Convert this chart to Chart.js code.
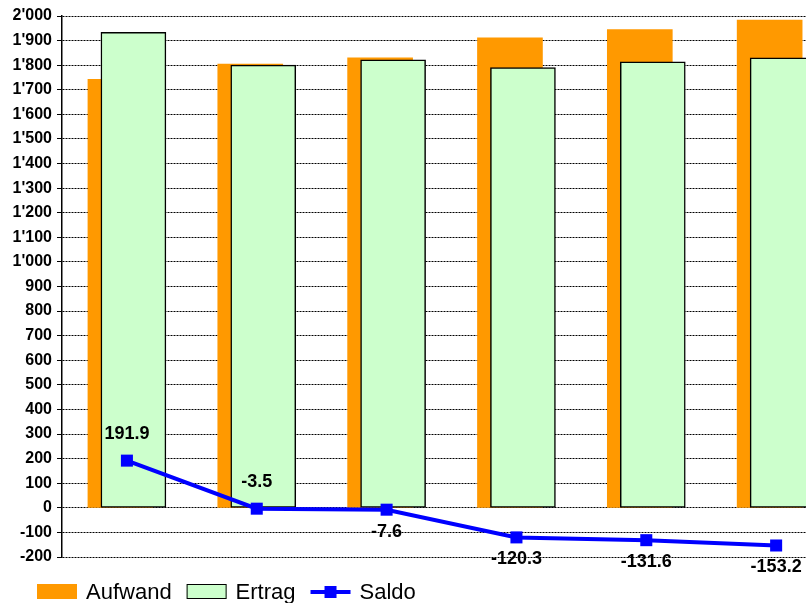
<!DOCTYPE html>
<html>
<head>
<meta charset="utf-8">
<script src="https://cdn.jsdelivr.net/npm/chart.js@4/dist/chart.umd.min.js"></script>
<style>
    body { margin: 0; background: #fff; overflow: hidden; }
    #wrap { width: 806px; height: 603px; }
</style>
</head>
<body>
<div id="wrap"><canvas id="chart" width="806" height="603"></canvas></div>
<script>
// Werte (Mio.)
const kategorien = [0, 1, 2, 3, 4, 5];
const aufwand = [1742, 1804, 1829.6, 1911, 1945, 1983];
const ertrag = [1933.9, 1800.5, 1822, 1790.7, 1813.4, 1829.8];
const saldo = [191.9, -3.5, -7.6, -120.3, -131.6, -153.2];

// Tausender mit Apostroph
function fmt(v) {
    return String(v).replace(/\B(?=(\d{3})+(?!\d))/g, "'");
}

// Datenbeschriftung der Saldo-Linie
const saldoLabels = {
    id: 'saldoLabels',
    afterDatasetsDraw(chart) {
        const ctx = chart.ctx;
        const meta = chart.getDatasetMeta(2);
        ctx.save();
        ctx.font = 'bold 18px "Liberation Sans", Arial, sans-serif';
        ctx.fillStyle = '#000';
        ctx.textAlign = 'center';
        ctx.textBaseline = 'middle';
        meta.data.forEach((pt, i) => {
            const v = saldo[i];
            const y = v > -5 ? pt.y - 27 : pt.y + 22;
            ctx.fillText(v.toFixed(1), pt.x, y);
        });
        ctx.restore();
    }
};

// Legende unten, wie im Original (Balken + Linie mit Marker)
const legende = {
    id: 'legende',
    afterDraw(chart) {
        const ctx = chart.ctx;
        const ds = chart.data.datasets;
        const yMid = 592;
        let x = 37;
        ctx.save();
        ctx.font = '22px "Liberation Sans", Arial, sans-serif';
        ctx.textBaseline = 'middle';
        ctx.textAlign = 'left';
        ds.forEach((d) => {
            if (d.type === 'line') {
                ctx.strokeStyle = d.borderColor;
                ctx.lineWidth = 4;
                ctx.beginPath();
                ctx.moveTo(x, yMid);
                ctx.lineTo(x + 40, yMid);
                ctx.stroke();
                ctx.fillStyle = d.borderColor;
                ctx.fillRect(x + 14, yMid - 6, 12, 12);
            } else {
                ctx.fillStyle = d.backgroundColor;
                ctx.fillRect(x, yMid - 8, 40, 15);
                if (d.borderWidth) {
                    ctx.strokeStyle = d.borderColor;
                    ctx.lineWidth = 1;
                    ctx.strokeRect(x + 0.5, yMid - 7.5, 39, 14);
                }
            }
            ctx.fillStyle = '#000';
            ctx.fillText(d.label, x + 49, yMid + 1);
            x += 49 + ctx.measureText(d.label).width + 15;
        });
        ctx.restore();
    }
};

new Chart(document.getElementById("chart"), {
    type: "bar",
    data: {
        datasets: [
            {
                type: "bar",
                label: "Aufwand",
                data: kategorien.map((k, i) => ({x: k - 0.05, y: aufwand[i]})),
                backgroundColor: '#FF9900',
                borderWidth: 0,
                barThickness: 65,
                grouped: false,
                order: 2,
            },
            {
                type: "bar",
                label: "Ertrag",
                data: kategorien.map((k, i) => ({x: k + 0.05, y: ertrag[i]})),
                backgroundColor: '#CCFFCC',
                borderColor: '#000',
                borderWidth: 1.5,
                borderSkipped: false,
                barThickness: 65,
                grouped: false,
                order: 1,
            },
            {
                type: "line",
                label: "Saldo",
                data: kategorien.map((k, i) => ({x: k, y: saldo[i]})),
                borderColor: '#0000FF',
                backgroundColor: '#0000FF',
                borderWidth: 4,
                pointStyle: 'rect',
                pointRadius: 8.5,
                pointBorderWidth: 0,
                tension: 0,
                order: 0,
            },
        ],
    },
    options: {
        responsive: false,
        animation: false,
        layout: {
            autoPadding: false,
            padding: {top: 16, bottom: 46, left: 0, right: 0},
        },
        scales: {
            x: {
                type: "linear",
                display: false,
                offset: false,
                bounds: 'ticks',
                min: -0.5,
                max: 5.23,
            },
            y: {
                min: -200,
                max: 2000,
                afterFit: (scale) => { scale.width = 62; },
                ticks: {
                    stepSize: 100,
                    color: '#000',
                    padding: 5,
                    font: {family: '"Liberation Sans", Arial, sans-serif', size: 16, weight: 'bold'},
                    callback: (v) => fmt(v),
                },
                grid: {
                    color: '#000',
                    lineWidth: 1,
                    tickLength: 5,
                    tickColor: '#000',
                    tickBorderDash: [],
                },
                border: {
                    display: true,
                    color: '#000',
                    width: 1.5,
                    dash: [2, 1],
                },
            },
        },
        plugins: {
            legend: {display: false},
            tooltip: {enabled: false},
        },
    },
    plugins: [saldoLabels, legende],
});
</script>
</body>
</html>
